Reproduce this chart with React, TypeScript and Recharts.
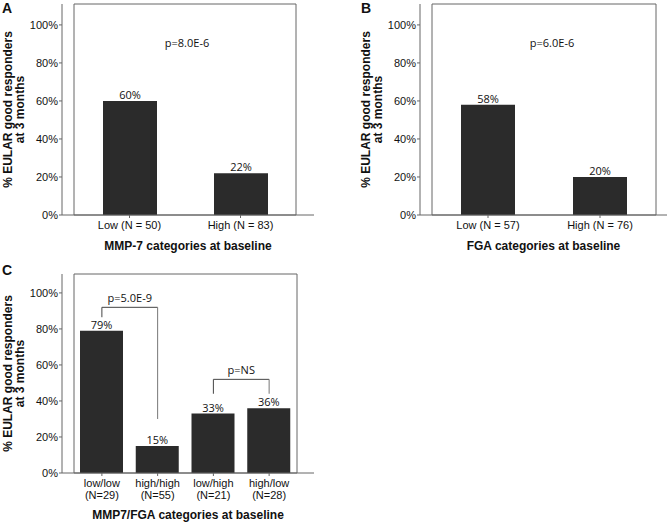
import React from 'react';
import { BarChart, Bar, XAxis, YAxis, LabelList, ReferenceLine, ReferenceArea } from 'recharts';

// y ticks shared by all panels
const yTicks = [0, 20, 40, 60, 80, 100];

// panel A
const mmp7Categories = ['Low (N = 50)', 'High (N = 83)'];
const mmp7Values = [60, 22];
const pValueA = 'p=8.0E-6';

// panel B
const fgaCategories = ['Low (N = 57)', 'High (N = 76)'];
const fgaValues = [58, 20];
const pValueB = 'p=6.0E-6';

// panel C
const comboGroups = ['low/low', 'high/high', 'low/high', 'high/low'];
const comboCounts = ['(N=29)', '(N=55)', '(N=21)', '(N=28)'];
const comboValues = [79, 15, 33, 36];

// significance brackets in panel C
const bracketFrom = ['low/low', 'low/high'];
const bracketTo = ['high/high', 'high/low'];
const bracketTop = [92, 52];
const bracketLeftFoot = [86.5, 44];
const bracketRightFoot = [30, 44];
const bracketLabels = ['p=5.0E-9', 'p=NS'];

const AXIS = '#666';
const BAR = '#2b2b2b';
const SANS = '"Liberation Sans", Arial, sans-serif';
const NOTE = '"Open Sans", "Noto Sans", sans-serif';

const YTitle = (props: any) => {
    const { viewBox, x1, x2 } = props;
    const cy = viewBox ? viewBox.y + viewBox.height / 2 : 110;
    const common = { textAnchor: 'middle' as const, dominantBaseline: 'central' as const, fontFamily: SANS, fontSize: 12, fontWeight: 'bold', fill: '#111' };
    return (
        <g>
            <text x={x1} y={cy} transform={`rotate(-90 ${x1} ${cy})`} {...common}>% EULAR good responders</text>
            <text x={x2} y={cy} transform={`rotate(-90 ${x2} ${cy})`} {...common}>at 3 months</text>
        </g>
    );
};

const XTitle = (props: any) => {
    const { viewBox, dy, text } = props;
    const cx = viewBox ? viewBox.x + viewBox.width / 2 : 0;
    const y = viewBox ? viewBox.y + dy : 0;
    return (
        <text x={cx} y={y} textAnchor="middle" dominantBaseline="central" fontFamily={SANS} fontSize={12} fontWeight="bold" fill="#111">
            {text}
        </text>
    );
};

const PlainTick = (props: any) => {
    const { x, y, payload, textAnchor, formatter } = props;
    const label = formatter ? formatter(payload.value) : payload.value;
    return (
        <text x={x} y={y} textAnchor={textAnchor} dy={props.vertical ? '0.35em' : '0.71em'} fontFamily={SANS} fontSize={11} fill="#111">
            {label}
        </text>
    );
};

const ComboTick = (props: any) => {
    const { x, y, payload } = props;
    const i = comboGroups.indexOf(payload.value);
    return (
        <text x={x} y={y} textAnchor="middle" fontFamily={SANS} fontSize={11} fill="#111">
            <tspan x={x} dy="0.71em">{payload.value}</tspan>
            <tspan x={x} dy={12}>{comboCounts[i]}</tspan>
        </text>
    );
};

const pct = (v: any) => `${v}%`;
const valueStyle = { fill: '#111', fontSize: 11, fontFamily: NOTE };

function TwoBarPanel({ categories, values, pValue, pShift, yTitleX, yAxisWidth, rightMargin, padLeft, padRight, title }: any) {
    const data = categories.map((c: string, i: number) => ({ name: c, value: values[i] }));
    return (
        <BarChart width={335} height={260} data={data} margin={{ top: 4, right: rightMargin, bottom: 0, left: 0 }}>
            <XAxis dataKey="name" height={45} padding={{ left: padLeft, right: padRight }} axisLine={{ stroke: AXIS }}
                tickLine={{ stroke: AXIS }} tickSize={3} tickMargin={3} tick={<PlainTick />} interval={0}
                label={<XTitle dy={31} text={title} />} />
            <YAxis domain={[0, 111]} ticks={yTicks} width={yAxisWidth}
                axisLine={{ stroke: AXIS }} tickLine={{ stroke: AXIS }} tickSize={3} tickMargin={1}
                tick={<PlainTick vertical formatter={pct} />}
                allowDataOverflow label={<YTitle x1={yTitleX[0]} x2={yTitleX[1]} />} />
            <ReferenceArea y1={0} y2={111} fill="none" fillOpacity={0} stroke={AXIS} strokeWidth={1} ifOverflow="visible" />
            <Bar dataKey="value" fill={BAR} barSize={54} isAnimationActive={false}>
                <LabelList dataKey="value" position="top" offset={2} formatter={pct} style={valueStyle} />
            </Bar>
            <ReferenceLine segment={[{ x: categories[0], y: 90.5 }, { x: categories[1], y: 90.5 }]} stroke="none"
                label={{ value: pValue, position: 'center', dx: pShift, fill: '#111', fontSize: 11, fontFamily: NOTE }} />
        </BarChart>
    );
}

function ComboPanel() {
    const data = comboGroups.map((g, i) => ({ name: g, value: comboValues[i] }));
    return (
        <BarChart width={335} height={262} data={data} margin={{ top: 14, right: 21, bottom: 0, left: 0 }}>
            <XAxis dataKey="name" height={49} padding={{ left: 12, right: 17 }} axisLine={{ stroke: AXIS }}
                tickLine={{ stroke: AXIS }} tickSize={3} tickMargin={3} tick={<ComboTick />} interval={0}
                label={<XTitle dy={42} text="MMP7/FGA categories at baseline" />} />
            <YAxis domain={[0, 110.5]} ticks={yTicks} width={62}
                axisLine={{ stroke: AXIS }} tickLine={{ stroke: AXIS }} tickSize={3} tickMargin={1}
                tick={<PlainTick vertical formatter={pct} />}
                allowDataOverflow label={<YTitle x1={8} x2={20} />} />
            <ReferenceArea y1={0} y2={110.5} fill="none" fillOpacity={0} stroke={AXIS} strokeWidth={1} ifOverflow="visible" />
            <Bar dataKey="value" fill={BAR} barSize={43} isAnimationActive={false}>
                <LabelList dataKey="value" position="top" offset={2} formatter={pct} style={valueStyle} />
            </Bar>
            {bracketFrom.map((from, i) => (
                <ReferenceLine key={`l${i}`} segment={[{ x: from, y: bracketLeftFoot[i] }, { x: from, y: bracketTop[i] }]} stroke="#444" />
            ))}
            {bracketFrom.map((from, i) => (
                <ReferenceLine key={`h${i}`} segment={[{ x: from, y: bracketTop[i] }, { x: bracketTo[i], y: bracketTop[i] }]} stroke="#444"
                    label={{ value: bracketLabels[i], position: 'top', offset: 5, fill: '#111', fontSize: 11, fontFamily: NOTE }} />
            ))}
            {bracketTo.map((to, i) => (
                <ReferenceLine key={`r${i}`} segment={[{ x: to, y: bracketTop[i] }, { x: to, y: bracketRightFoot[i] }]} stroke="#777" />
            ))}
        </BarChart>
    );
}

const panelLetter = { position: 'absolute' as const, fontFamily: SANS, fontWeight: 'bold' as const, fontSize: 14, color: '#111', lineHeight: '14px' };

export default function App() {
    return (
        <div style={{ position: 'absolute', left: 0, top: 0, width: 669, height: 522, background: '#fff', overflow: 'hidden', fontFamily: SANS }}>
            <div style={{ position: 'absolute', left: 0, top: 0 }}>
                <TwoBarPanel categories={mmp7Categories} values={mmp7Values} pValue={pValueA} pShift={2} yTitleX={[8, 20]}
                    yAxisWidth={62} rightMargin={21} padLeft={12} padRight={18} title="MMP-7 categories at baseline" />
            </div>
            <div style={{ position: 'absolute', left: 334, top: 0 }}>
                <TwoBarPanel categories={fgaCategories} values={fgaValues} pValue={pValueB} pShift={8} yTitleX={[32, 44]}
                    yAxisWidth={86} rightMargin={2} padLeft={12} padRight={11} title="FGA categories at baseline" />
            </div>
            <div style={{ position: 'absolute', left: 0, top: 260 }}>
                <ComboPanel />
            </div>
            <div style={{ ...panelLetter, left: 2, top: 1 }}>A</div>
            <div style={{ ...panelLetter, left: 361, top: 1 }}>B</div>
            <div style={{ ...panelLetter, left: 2, top: 263 }}>C</div>
        </div>
    );
}
